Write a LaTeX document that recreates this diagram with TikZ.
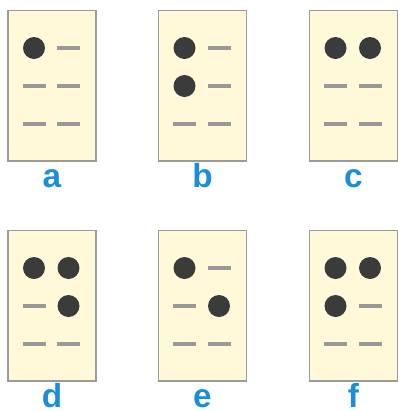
\documentclass[tikz,border=0pt]{standalone}
\usepackage{fontspec}
\usetikzlibrary{calc}
\newfontfamily\labelfont{Liberation Sans}

\definecolor{cellcream}{HTML}{FFF8D9}
\definecolor{cellframe}{HTML}{9B9B9B}
\definecolor{dotgray}{HTML}{3B3B3B}
\definecolor{bargray}{HTML}{999999}
\definecolor{letterblue}{HTML}{1A8FD8}

\tikzset{every picture/.style={line width=0.75pt}}
\tikzset{
	braillecell/.style={draw=cellframe, fill=cellcream, line width=1.1pt, inner sep=0pt,
		outer sep=0pt, minimum width=66pt, minimum height=112.9pt, anchor=north west},
	brailledot/.style={fill=dotgray},
	braillebar/.style={draw=bargray, line width=2.3pt},
	braillelabel/.style={text=letterblue, anchor=base, inner sep=0pt,
		font=\labelfont\bfseries\fontsize{25}{28}\selectfont}
}

% one position of a cell: dot if flag is 1, bar otherwise
\newcommand{\cellmark}[3]{%
	\ifnum#3=1
		\fill[brailledot] (#1,#2) circle (8.25pt);
	\else
		\draw[braillebar] (#1-11.5,#2) -- (#1+11.5,#2);
	\fi}

\begin{document}
\begin{tikzpicture}[x=0.75pt,y=0.75pt,yscale=-1,xscale=1]
	\useasboundingbox (0,0) rectangle (398,411);
	
	% letter / left corner / dots 1 2 3 4 5 6
	\foreach \lbl/\cx/\cy/\pa/\pb/\pc/\pd/\pe/\pf in {
		a/8/10.5/1/0/0/0/0/0,
		b/158.5/10.5/1/1/0/0/0/0,
		c/309.5/10.5/1/0/0/1/0/0,
		d/8/230.5/1/0/0/1/1/0,
		e/158.5/230.5/1/0/0/0/1/0,
		f/309.5/230.5/1/1/0/1/0/0}{
		% Cell
		\node[braillecell] (cell-\lbl) at (\cx,\cy) {};
		% Left column
		\cellmark{\cx+26}{\cy+37.5}{\pa}
		\cellmark{\cx+26}{\cy+75.5}{\pb}
		\cellmark{\cx+26}{\cy+113.5}{\pc}
		% Right column
		\cellmark{\cx+60.5}{\cy+37.5}{\pd}
		\cellmark{\cx+60.5}{\cy+75.5}{\pe}
		\cellmark{\cx+60.5}{\cy+113.5}{\pf}
		% Text Node
		\node[braillelabel] (lbl-\lbl) at ($(cell-\lbl.south)+(0,26.5)$) {\lbl};
	}
	
\end{tikzpicture}
\end{document}
